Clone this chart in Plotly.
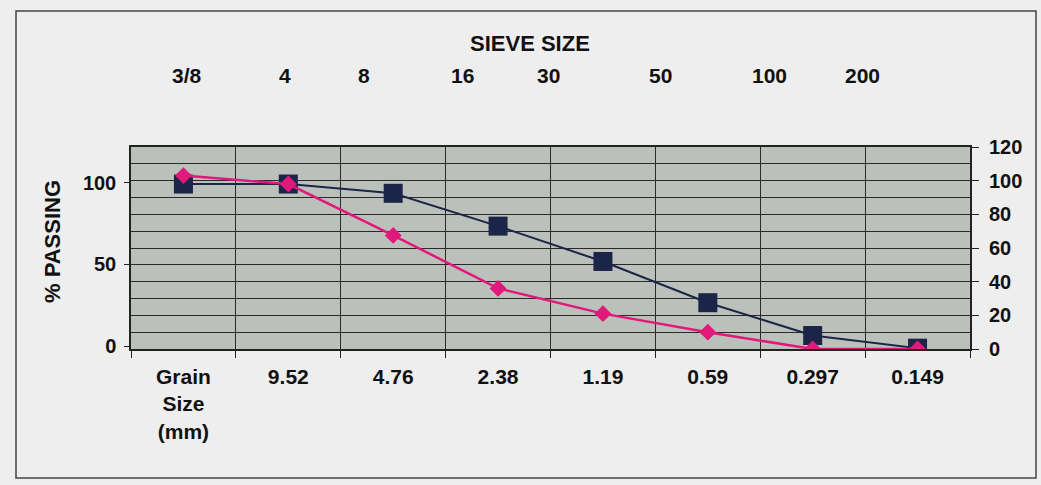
import plotly.graph_objects as go

grain_labels = ["Grain<br>Size<br>(mm)", "9.52", "4.76", "2.38", "1.19", "0.59", "0.297", "0.149"]
series_a = [98, 98, 92.5, 73, 52, 27.5, 8, 0.5]     # navy squares
series_b = [103, 98, 67.5, 36, 21, 10, 0, 0]         # pink diamonds
sieve_labels = ["3/8", "4", "8", "16", "30", "50", "100", "200"]
sieve_x_px = [187, 285, 364, 462, 548, 660, 769, 862]

W, H = 1041, 485
L, R, T, B = 131, 71, 147, 136
PW, PH = W - L - R, H - T - B

def px_x(px):
    return (px - L) / PW

def px_y(py):
    return (H - B - py) / PH

FAM = "Liberation Sans, Arial, sans-serif"
def f(size):
    return dict(family=FAM, size=size, color="#111111", weight="bold")

fig = go.Figure()
fig.add_trace(go.Scatter(x=grain_labels, y=series_a, yaxis="y2", mode="lines+markers",
                         line=dict(color="#1b2547", width=2),
                         marker=dict(symbol="square", size=19, color="#1b2547"),
                         showlegend=False))
fig.add_trace(go.Scatter(x=grain_labels, y=series_b, yaxis="y2", mode="lines+markers",
                         line=dict(color="#e0197a", width=2.5),
                         marker=dict(symbol="diamond", size=13, color="#e0197a"),
                         showlegend=False))
fig.add_trace(go.Scatter(x=grain_labels, y=[None]*len(grain_labels), yaxis="y",
                         showlegend=False, hoverinfo="skip"))

fig.update_layout(
    width=W, height=H,
    margin=dict(l=L, r=R, t=T, b=B, autoexpand=False),
    paper_bgcolor="#eeeeee",
    plot_bgcolor="#bcc0bb",
    font=f(20),
    xaxis=dict(type="category", tickson="boundaries", showgrid=True, gridcolor="#2a2a2a",
               gridwidth=1, ticks="outside", ticklen=7, tickcolor="#222222",
               showline=True, linecolor="#222222", linewidth=1.5, mirror=True,
               tickfont=f(21), ticklabelstandoff=8, automargin=False, range=[-0.5, 7.5]),
    yaxis=dict(range=[-1.8, 122], tickvals=[0, 50, 100], showgrid=False, zeroline=False,
               ticks="outside", ticklen=5, tickcolor="#222222", automargin=False,
               ticklabelstandoff=4,
               showline=True, linecolor="#222222", linewidth=1.5, tickfont=f(20)),
    yaxis2=dict(range=[0, 120], overlaying="y", side="right", dtick=20,
                showgrid=True, gridcolor="#2a2a2a", gridwidth=1, zeroline=False,
                minor=dict(dtick=10, showgrid=True, gridcolor="#2a2a2a", gridwidth=1),
                ticks="outside", ticklen=7, tickcolor="#222222", automargin=False,
                ticklabelstandoff=6,
                showline=True, linecolor="#222222", linewidth=2, tickfont=f(20)),
)

fig.add_annotation(text="% PASSING", xref="paper", yref="paper",
                   x=px_x(52), y=px_y(242), xanchor="center", yanchor="middle",
                   textangle=-90, showarrow=False, font=f(22))
fig.add_annotation(text="SIEVE SIZE", xref="paper", yref="paper",
                   x=px_x(530), y=px_y(43), xanchor="center", yanchor="middle",
                   showarrow=False, font=f(22))
for lab, px in zip(sieve_labels, sieve_x_px):
    fig.add_annotation(text=lab, xref="paper", yref="paper",
                       x=px_x(px), y=px_y(76), xanchor="center", yanchor="middle",
                       showarrow=False, font=f(21))

fig.add_shape(type="rect", xref="paper", yref="paper",
              x0=px_x(16), x1=px_x(1036), y0=px_y(478), y1=px_y(11),
              line=dict(color="#444444", width=1.5), layer="below")

fig.write_html("out.html", config={"displayModeBar": False},
               post_script="document.body.style.margin='0';document.body.style.background='#eeeeee';")
